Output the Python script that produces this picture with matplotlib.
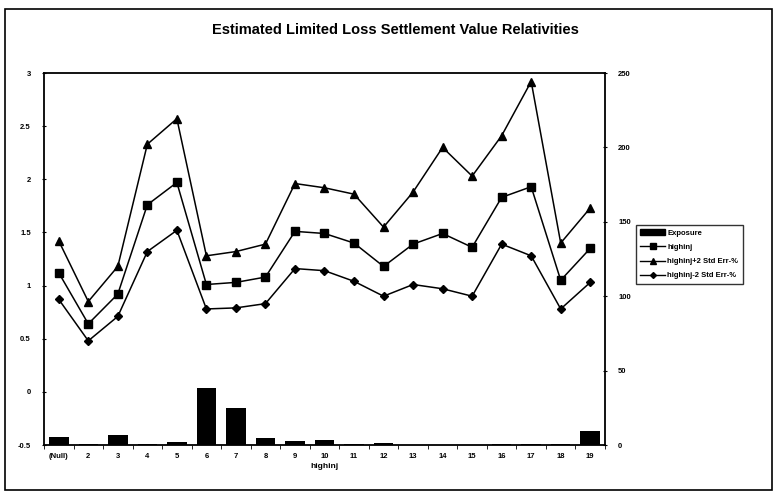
import numpy as np
import matplotlib
matplotlib.use('Agg')
import matplotlib.pyplot as plt
from matplotlib.patches import Rectangle, Patch
from matplotlib.lines import Line2D

plt.rcParams['font.family'] = ['Liberation Sans', 'DejaVu Sans']
plt.rcParams['font.weight'] = 'bold'

# ── data ────────────────────────────────────────────────────
categories = ['(Null)', '2', '3', '4', '5', '6', '7', '8', '9', '10',
              '11', '12', '13', '14', '15', '16', '17', '18', '19']
exposure   = [5.6, 1.0, 6.5, 0.5, 2.0, 38.0, 24.6, 4.5, 2.7, 3.6,
              1.0, 1.2, 0.2, 0.2, 0.2, 0.6, 0.4, 0.6, 9.2]
highinj    = [1.12, 0.64, 0.92, 1.76, 1.97, 1.01, 1.03, 1.08, 1.51, 1.49,
              1.40, 1.18, 1.39, 1.49, 1.36, 1.83, 1.93, 1.05, 1.35]
upper      = [1.42, 0.85, 1.18, 2.33, 2.57, 1.28, 1.32, 1.39, 1.96, 1.92,
              1.86, 1.55, 1.88, 2.30, 2.03, 2.41, 2.92, 1.40, 1.73]
lower      = [0.87, 0.48, 0.71, 1.32, 1.52, 0.78, 0.79, 0.83, 1.16, 1.14,
              1.04, 0.90, 1.01, 0.97, 0.90, 1.39, 1.28, 0.78, 1.03]

x = np.arange(len(categories))

fig = plt.figure(figsize=(7.77, 4.96), dpi=100)
fig.patches.append(Rectangle((5/777, 6/496), 767/777, 481/496, transform=fig.transFigure,
                             fill=False, edgecolor='black', linewidth=1.2))

ax = fig.add_axes([44/777, 51/496, 561/777, 372/496])
ax2 = ax.twinx()

# bars on right axis
ax2.bar(x, exposure, width=0.66, color='black', zorder=2)
ax2.set_ylim(0, 250)
ax2.set_yticks(np.arange(0, 251, 50))

# lines on left axis (drawn above bars)
ax.set_zorder(ax2.get_zorder() + 1)
ax.patch.set_visible(False)
ax.plot(x, highinj, 'k-', marker='s', markersize=6, linewidth=1.1)
ax.plot(x, upper,   'k-', marker='^', markersize=6, linewidth=1.1)
ax.plot(x, lower,   'k-', marker='D', markersize=4.5, linewidth=1.1)
ax.set_ylim(-0.5, 3)
ax.set_yticks(np.arange(-0.5, 3.01, 0.5))
ax.set_yticklabels(['-0.5', '0', '0.5', '1', '1.5', '2', '2.5', '3'])
ax.set_xlim(-0.5, len(categories) - 0.5)
ax.set_xticks(x)
ax.set_xticklabels(categories)
ax.set_xticks(np.arange(-0.5, len(categories), 1), minor=True)
ax.tick_params(axis='x', which='major', length=0, pad=6, labelsize=5.5)
ax.tick_params(axis='x', which='minor', length=3, direction='out')
ax.tick_params(axis='y', length=3, direction='inout', labelsize=5.5, pad=8)
ax2.tick_params(axis='y', length=3, direction='inout', labelsize=5.5, pad=8)

for a in (ax, ax2):
    a.spines['top'].set_visible(False)
ax.spines['right'].set_visible(False)
ax2.spines['left'].set_visible(False)
ax2.spines['bottom'].set_visible(False)
ax.spines['left'].set_linewidth(1.3)
ax.spines['bottom'].set_linewidth(1.3)
ax2.spines['right'].set_linewidth(1.3)
ax.axhline(3, color='black', linewidth=1.3, clip_on=False)

ax.set_xlabel('highinj', fontsize=6, fontweight='bold', labelpad=2)
fig.text(395/777, 1 - 30/496, 'Estimated Limited Loss Settlement Value Relativities',
         ha='center', va='center', fontsize=10.5, fontweight='bold')

handles = [Patch(facecolor='black', edgecolor='black'),
           Line2D([], [], color='black', marker='s', markersize=4, linewidth=1),
           Line2D([], [], color='black', marker='^', markersize=4, linewidth=1),
           Line2D([], [], color='black', marker='D', markersize=3, linewidth=1)]
labels = ['Exposure', 'highinj', 'highinj+2 Std Err-%', 'highinj-2 Std Err-%']
leg = fig.legend(handles, labels, loc='upper left',
                 bbox_to_anchor=(632/777, 1 - 221/496), fontsize=5.5,
                 frameon=True, fancybox=False, edgecolor='black',
                 handlelength=3.2, handleheight=0.7, labelspacing=0.9,
                 borderpad=0.6, handletextpad=0.3)
leg.get_frame().set_linewidth(1.0)

fig.savefig('out.png', dpi=100)
